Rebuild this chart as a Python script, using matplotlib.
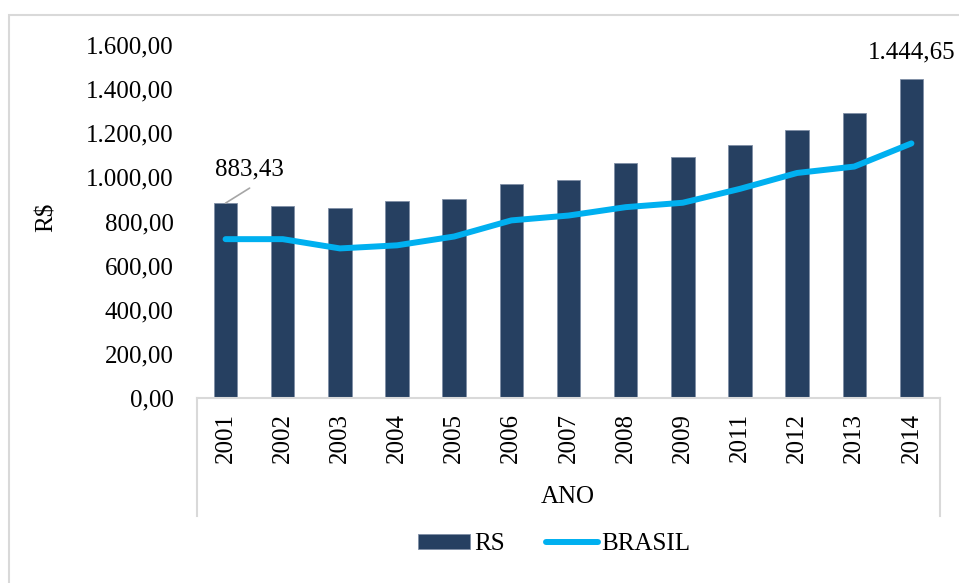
import matplotlib
matplotlib.use("Agg")
import matplotlib.pyplot as plt
from matplotlib.patches import Rectangle
from matplotlib.lines import Line2D
from matplotlib.ticker import FuncFormatter

plt.rcParams['font.family'] = ['Liberation Serif', 'DejaVu Serif']

anos = ["2001", "2002", "2003", "2004", "2005", "2006", "2007",
        "2008", "2009", "2011", "2012", "2013", "2014"]
rs = [883.43, 872, 860, 892, 901, 972, 987, 1065, 1092, 1145, 1214, 1293, 1444.65]
brasil = [720, 720, 678, 692, 732, 805, 827, 865, 885, 948, 1020, 1049, 1154]

W, H = 959, 583
fig = plt.figure(figsize=(W / 100, H / 100), dpi=100)
ax = fig.add_axes([197 / W, 1 - 398 / H, (940 - 197) / W, (398 - 45) / H])

x = list(range(len(anos)))
bars = ax.bar(x, rs, width=0.41, color="#264061", edgecolor="#7F8FA6",
              linewidth=0.6, label="RS", zorder=2)
ln, = ax.plot(x, brasil, color="#00B0F0", linewidth=4.3,
              solid_capstyle="round", label="BRASIL", zorder=3)

ax.set_xlim(-0.5, len(anos) - 0.5)
ax.set_ylim(0, 1600)
ax.set_yticks(range(0, 1601, 200))


def br(v, pos=None):
    s = "{:,.2f}".format(v)
    return s.replace(",", "X").replace(".", ",").replace("X", ".")


ax.yaxis.set_major_formatter(FuncFormatter(br))
ax.set_xticks(x)
ax.set_xticklabels(anos, rotation=90)
ax.tick_params(axis="both", length=0, labelsize=18, colors="black")
ax.tick_params(axis="x", pad=11)
ax.tick_params(axis="y", pad=17)

for s in ["top", "right", "left"]:
    ax.spines[s].set_visible(False)
ax.spines["bottom"].set_color("#D9D9D9")
ax.spines["bottom"].set_linewidth(1.5)

# category box sides
for px in (197, 940):
    fig.add_artist(Line2D([px / W, px / W], [1 - 398 / H, 1 - 516 / H],
                          color="#D9D9D9", linewidth=1.5))

# chart border (left + top visible)
fig.add_artist(Rectangle((8.5 / W, -0.05), 1.2, 1 - 15 / H + 0.05,
                         fill=False, edgecolor="#D9D9D9", linewidth=1.5))

# data labels
ax.annotate("", xy=(x[0], rs[0]), xytext=(17.3, 10.8),
            textcoords="offset points",
            arrowprops=dict(arrowstyle="-", color="#A6A6A6", lw=1.2,
                            shrinkA=0, shrinkB=0))
fig.text(249 / W, 1 - 169 / H, br(rs[0]), ha="center", va="center", fontsize=18)
ax.annotate(br(rs[-1]), xy=(x[-1], rs[-1]), xytext=(0, 19),
            textcoords="offset points", ha="center", va="center", fontsize=18)

ax.set_ylabel("R$", fontsize=18)
ax.yaxis.set_label_coords(58 / W, 1 - 217 / H, transform=fig.transFigure)
fig.text(568 / W, 1 - 497 / H, "ANO", ha="center", va="center", fontsize=18)

fig.legend(handles=[bars, ln], labels=["RS", "BRASIL"], loc="center",
           bbox_to_anchor=(554.5 / W, 1 - 544 / H), ncol=2, frameon=False,
           fontsize=18, handlelength=2.08, handleheight=0.56,
           handletextpad=0.15, columnspacing=1.64)

fig.savefig("out.png", dpi=100)
